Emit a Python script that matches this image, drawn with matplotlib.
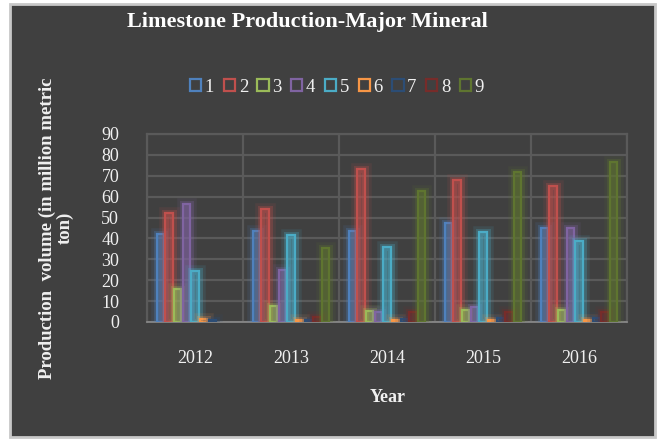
import numpy as np
import matplotlib
matplotlib.use("Agg")
import matplotlib.pyplot as plt
import matplotlib.patheffects as pe
from matplotlib.patches import Rectangle

# -------------------------
# Data
# -------------------------
years = ["2012", "2013", "2014", "2015", "2016"]
series_names = ["1", "2", "3", "4", "5", "6", "7", "8", "9"]

s1 = [42.0, 43.7, 43.7, 47.5, 45.1]
s2 = [52.3, 54.2, 73.2, 68.0, 65.1]
s3 = [15.6, 7.8, 5.4, 5.6, 5.6]
s4 = [56.5, 24.9, 5.0, 7.0, 45.1]
s5 = [24.6, 41.6, 36.0, 43.1, 38.8]
s6 = [1.5, 1.0, 1.0, 1.0, 1.0]
s7 = [1.0, 1.0, 1.5, 2.0, 2.0]
s8 = [0.0, 2.5, 5.0, 5.0, 5.0]
s9 = [0.0, 35.6, 62.7, 71.8, 76.6]
series = [s1, s2, s3, s4, s5, s6, s7, s8, s9]

colors = ["#4F81BD", "#C0504D", "#9BBB59", "#8064A2", "#4BACC6",
          "#F79646", "#2C4D75", "#772C2A", "#5F7530"]

BG = "#404040"
plt.rcParams["font.family"] = ["Liberation Serif", "DejaVu Serif"]

# -------------------------
# Figure
# -------------------------
fig = plt.figure(figsize=(6.61, 4.41), dpi=100, facecolor="white")
W, H = 661, 441
fig.patches.append(Rectangle((10 / W, 4 / H), 645 / W, 433 / H,
                             transform=fig.transFigure, facecolor=BG,
                             edgecolor="#c8c8c8", linewidth=2, zorder=-5))

ax = fig.add_axes([147 / W, 1 - 322 / H, 480 / W, 188 / H], zorder=2)
ax.set_facecolor(BG)

x = np.arange(len(years))
pitch = 0.09
width = 0.078
for i, (vals, c) in enumerate(zip(series, colors)):
    pos = x + (i - 4) * pitch
    bars = ax.bar(pos, vals, width, facecolor=c, edgecolor=c,
                  linewidth=1.6, zorder=3, label=series_names[i])
    for b, v in zip(bars, vals):
        if v == 0:
            b.set_visible(False)
            continue
        b.set_facecolor(matplotlib.colors.to_rgba(c, 0.15))
        b.set_path_effects([
            pe.Stroke(linewidth=9, foreground=c, alpha=0.12),
            pe.Stroke(linewidth=5, foreground=c, alpha=0.28),
            pe.Normal(),
        ])

ax.set_xlim(-0.5, 4.5)
ax.set_ylim(0, 90)
ax.set_yticks(np.arange(0, 91, 10))
ax.set_xticks(x)
ax.set_xticklabels(years)
ax.set_xticks(np.arange(-0.5, 4.6, 1), minor=True)
ax.tick_params(axis="x", which="both", length=0, pad=20, labelsize=13,
               colors="#f0f0f0")
ax.tick_params(axis="y", length=0, pad=20, labelsize=13, colors="#f0f0f0")
ax.grid(axis="y", color="#5a5a5a", linewidth=1.6, zorder=1)
ax.grid(axis="x", which="minor", color="#5a5a5a", linewidth=1.6, zorder=1)
ax.set_axisbelow(True)
for side in ["top", "right", "left"]:
    ax.spines[side].set_color("#5a5a5a")
    ax.spines[side].set_linewidth(1.6)
ax.spines["bottom"].set_color("#8c8c8c")
ax.spines["bottom"].set_linewidth(1.2)

# -------------------------
# Text
# -------------------------
fig.text(307 / W, 1 - 22 / H, "Limestone Production-Major Mineral",
         ha="center", va="center", fontsize=16, fontweight="bold",
         color="white")
fig.text(388 / W, 1 - 397 / H, "Year", ha="center", va="center",
         fontsize=13, fontweight="bold", color="#f0f0f0")
fig.text(56 / W, 1 - 228 / H, "Production  volume (in million metric\nton)",
         ha="center", va="center", rotation=90, fontsize=13.5,
         fontweight="bold", color="#f0f0f0", linespacing=1.0)

handles = [Rectangle((0, 0), 1, 1, facecolor="none", edgecolor=c, linewidth=1.6)
           for c in colors]
fig.legend(handles, series_names, loc="center", ncol=9,
           bbox_to_anchor=(337 / W, 1 - 87 / H), frameon=False,
           fontsize=13.5, labelcolor="#f0f0f0", handlelength=0.6,
           handleheight=0.6, handletextpad=0.2, columnspacing=0.5)

fig.savefig("out.png", dpi=100, facecolor=fig.get_facecolor())
